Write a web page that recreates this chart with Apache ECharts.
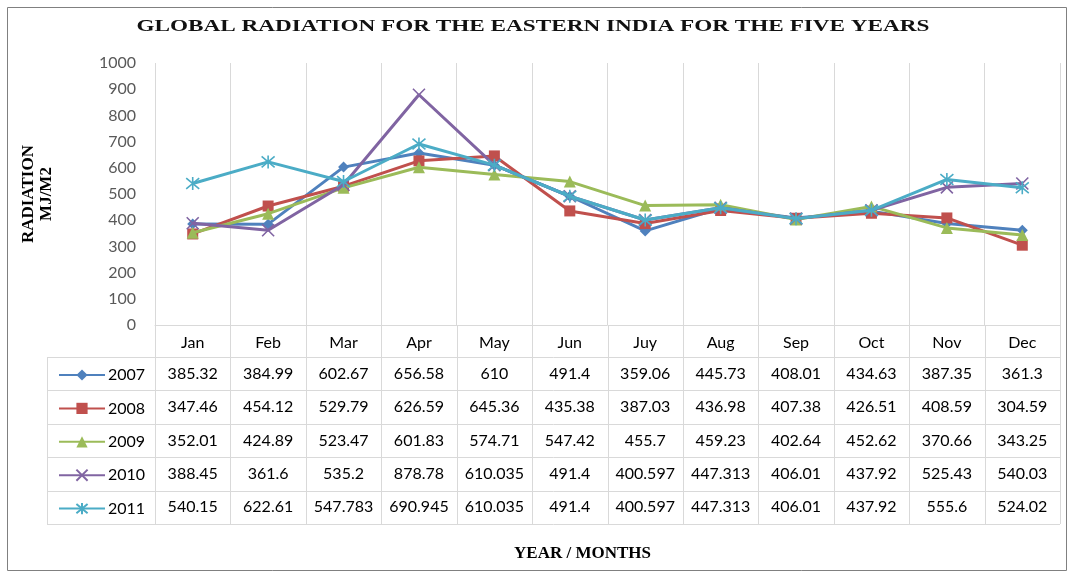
<!DOCTYPE html>
<html>
<head>
<meta charset="utf-8">
<script src="https://cdn.jsdelivr.net/npm/echarts@6/dist/echarts.min.js"></script>
<style>
  html, body { margin: 0; padding: 0; background: #fff; }
  #main { width: 1070px; height: 572px; }
</style>
</head>
<body>
<div id="main"></div>
<script>
const months = ['Jan', 'Feb', 'Mar', 'Apr', 'May', 'Jun', 'Juy', 'Aug', 'Sep', 'Oct', 'Nov', 'Dec'];
const years = ['2007', '2008', '2009', '2010', '2011'];
const v2007 = [385.32, 384.99, 602.67, 656.58, 610, 491.4, 359.06, 445.73, 408.01, 434.63, 387.35, 361.3];
const v2008 = [347.46, 454.12, 529.79, 626.59, 645.36, 435.38, 387.03, 436.98, 407.38, 426.51, 408.59, 304.59];
const v2009 = [352.01, 424.89, 523.47, 601.83, 574.71, 547.42, 455.7, 459.23, 402.64, 452.62, 370.66, 343.25];
const v2010 = [388.45, 361.6, 535.2, 878.78, 610.035, 491.4, 400.597, 447.313, 406.01, 437.92, 525.43, 540.03];
const v2011 = [540.15, 622.61, 547.783, 690.945, 610.035, 491.4, 400.597, 447.313, 406.01, 437.92, 555.6, 524.02];
const allValues = [v2007, v2008, v2009, v2010, v2011];

const colors = ['#4F81BD', '#C0504D', '#9BBB59', '#8064A2', '#4BACC6'];
const symbols = [
    'diamond',
    'rect',
    'triangle',
    'path://M0,0L10,10M10,0L0,10',
    'path://M0,0L10,10M10,0L0,10M5,-1L5,11'
];
const symbolSizes = [11, 11, 12, 12, 13];

const gridLine = '#d9d9d9';
const numFont = 'Lato, "Open Sans", sans-serif';
const serif = '"Liberation Serif", "DejaVu Serif", serif';

var chartDom = document.getElementById('main');
var myChart = echarts.init(chartDom);
var option;

var series = years.map(function (y, i) {
    return {
        name: y,
        type: 'line',
        data: allValues[i],
        symbol: symbols[i],
        symbolSize: symbolSizes[i],
        showSymbol: true,
        lineStyle: { width: 3, color: colors[i] },
        itemStyle: {
            color: colors[i],
            borderColor: colors[i],
            borderWidth: i >= 3 ? 1.6 : 0
        },
        emphasis: { disabled: true },
        z: 2 + i
    };
});

option = {
    animation: false,
    color: colors,
    legend: {
        orient: 'vertical',
        left: 53,
        top: 362,
        itemWidth: 46,
        itemHeight: 14,
        itemGap: 17.4,
        textStyle: { fontFamily: numFont, fontSize: 16, color: '#000', padding: [0, 0, 0, -2] },
        data: years,
        selectedMode: false
    },
    grid: {
        left: 155,
        right: 10,
        top: 63,
        bottom: 247,
        containLabel: false
    },
    xAxis: {
        type: 'category',
        data: months,
        boundaryGap: true,
        axisLine: { lineStyle: { color: gridLine, width: 1 } },
        axisTick: { show: false },
        axisLabel: { color: '#000', fontFamily: numFont, fontSize: 16, margin: 10 },
        splitLine: { show: true, lineStyle: { color: gridLine, width: 1 } },
        name: 'YEAR / MONTHS',
        nameLocation: 'middle',
        nameGap: 220,
        nameTextStyle: { fontFamily: serif, fontWeight: 'bold', fontSize: 17, color: '#000', padding: [0, 0, 0, -50] }
    },
    yAxis: {
        type: 'value',
        min: 0,
        max: 1000,
        interval: 100,
        axisLine: { show: false },
        axisTick: { show: false },
        splitLine: { show: false },
        axisLabel: {
            color: '#595959', fontFamily: numFont, fontSize: 16, margin: 19,
            formatter: function (v) { return String(v); }
        },
        name: 'RADIATION\nMJ/M2',
        nameLocation: 'middle',
        nameRotate: 90,
        nameGap: 99,
        nameTextStyle: { fontFamily: serif, fontWeight: 'bold', fontSize: 17, color: '#000', lineHeight: 18 }
    },
    series: series
};

option && myChart.setOption(option);

// data table below the plot, laid out on the category axis
function buildTable() {
    var c0 = myChart.convertToPixel({ xAxisIndex: 0 }, 0);
    var c1 = myChart.convertToPixel({ xAxisIndex: 0 }, 1);
    var half = (c1 - c0) / 2;
    var axisY = myChart.convertToPixel({ yAxisIndex: 0 }, 0);
    var tableLeft = 47;
    var rowTop = 357;
    var rowH = 33.4;
    var lastX = myChart.convertToPixel({ xAxisIndex: 0 }, months.length - 1) + half;
    var tableBottom = rowTop + rowH * years.length;
    var els = [];

    // outer border of the chart
    els.push({
        type: 'rect', silent: true,
        shape: { x: 7.5, y: 7.5, width: 1059, height: 563 },
        style: { fill: null, stroke: '#808080', lineWidth: 1 }
    });
    // title (stretched to the spaced-out width of the original)
    els.push({
        type: 'text', silent: true,
        x: 533, y: 27, scaleX: 1.45,
        style: {
            text: 'GLOBAL RADIATION FOR THE EASTERN INDIA FOR THE FIVE YEARS',
            textAlign: 'center', textVerticalAlign: 'middle',
            fontFamily: serif, fontWeight: 'bold', fontSize: 16, fill: '#111'
        }
    });

    // vertical lines through the table
    for (var k = 0; k <= months.length; k++) {
        var x = Math.round(c0 - half + k * half * 2) + 0.5;
        els.push({
            type: 'line', silent: true,
            shape: { x1: x, y1: axisY, x2: x, y2: tableBottom },
            style: { stroke: gridLine, lineWidth: 1 }
        });
    }
    els.push({
        type: 'line', silent: true,
        shape: { x1: tableLeft + 0.5, y1: rowTop, x2: tableLeft + 0.5, y2: tableBottom },
        style: { stroke: gridLine, lineWidth: 1 }
    });
    // horizontal lines
    for (var r = 0; r <= years.length; r++) {
        var y = Math.round(rowTop + r * rowH) + 0.5;
        els.push({
            type: 'line', silent: true,
            shape: { x1: tableLeft, y1: y, x2: lastX, y2: y },
            style: { stroke: gridLine, lineWidth: 1 }
        });
    }
    // cell values
    allValues.forEach(function (vals, r) {
        vals.forEach(function (v, i) {
            els.push({
                type: 'text', silent: true,
                style: {
                    text: String(v),
                    x: myChart.convertToPixel({ xAxisIndex: 0 }, i),
                    y: rowTop + (r + 0.5) * rowH,
                    textAlign: 'center', textVerticalAlign: 'middle',
                    fontFamily: numFont, fontSize: 16, fill: '#000'
                }
            });
        });
    });
    myChart.setOption({ graphic: { elements: els } });
}
buildTable();
</script>
</body>
</html>
